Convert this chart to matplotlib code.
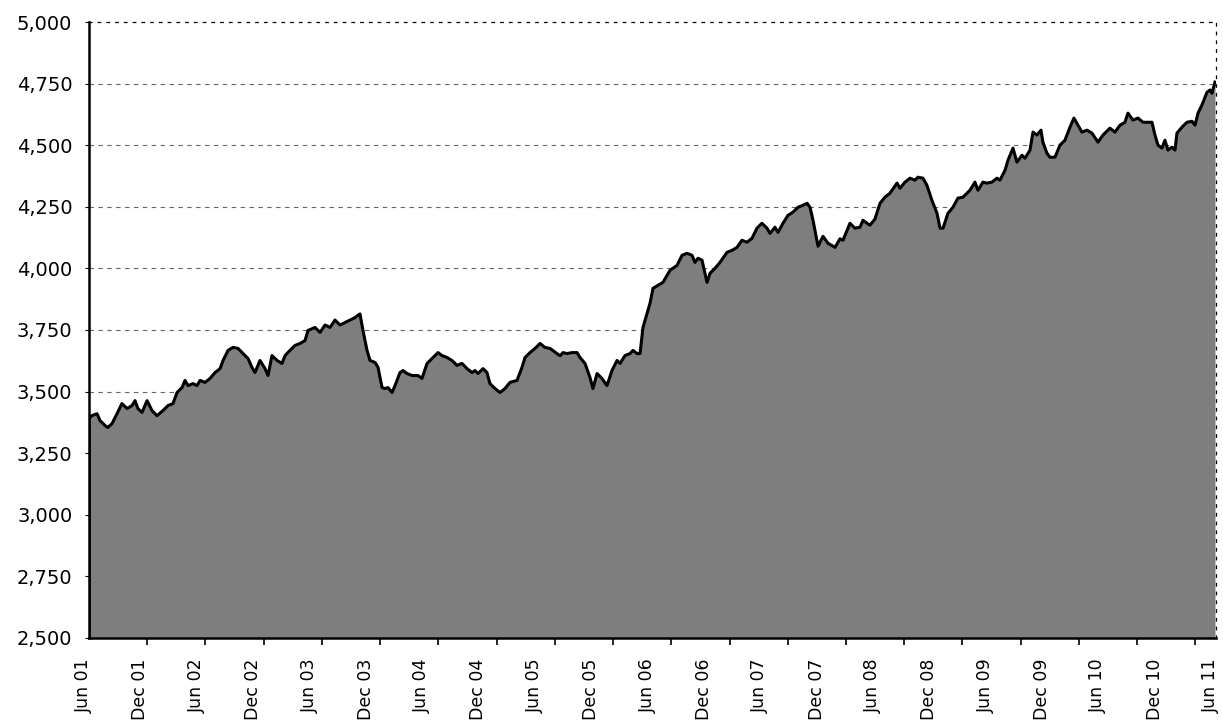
import numpy as np
import matplotlib.pyplot as plt
import matplotlib.transforms as mtransforms

plt.rcParams['font.family'] = ['DejaVu Sans']

# months since Jun 2001 and index level
months = [0.0, 0.3, 0.85, 1.17, 1.7, 2.0, 2.45, 2.98, 3.5, 4.05, 4.58, 4.9, 5.2, 5.64,
          6.18, 6.7, 7.24, 7.88, 8.41, 8.94, 9.37, 9.9, 10.22, 10.54, 11.07, 11.5, 11.82,
          12.35, 12.88, 13.42, 13.95, 14.27, 14.8, 15.33, 15.86, 16.4, 16.93, 17.35, 17.67,
          18.2, 18.74, 19.06, 19.48, 20.02, 20.55, 20.87, 21.4, 21.93, 22.47, 23.0, 23.32,
          24.06, 24.6, 25.13, 25.66, 26.19, 26.72, 27.26, 27.79, 28.32, 28.85, 29.17, 29.6,
          29.92, 30.45, 30.77, 31.2, 31.52, 31.83, 32.26, 32.58, 33.11, 33.43, 33.86, 34.39,
          35.03, 35.45, 35.99, 36.63, 37.16, 37.58, 38.12, 38.65, 39.18, 39.71, 40.25, 40.78,
          41.1, 41.42, 41.95, 42.37, 42.69, 43.23, 43.76, 44.29, 44.82, 45.57, 46.1, 46.42,
          46.95, 47.49, 48.02, 48.55, 49.08, 49.62, 50.15, 50.47, 50.89, 51.43, 51.96, 52.28,
          52.81, 53.34, 53.66, 54.09, 54.62, 55.15, 55.68, 56.22, 56.54, 57.07, 57.6, 57.92,
          58.35, 58.67, 58.98, 59.41, 59.73, 60.05, 60.58, 61.11, 61.86, 62.61, 63.14, 63.67,
          64.2, 64.52, 64.84, 65.27, 65.8, 66.12, 66.65, 67.18, 67.93, 68.46, 68.99, 69.52,
          70.06, 70.59, 71.12, 71.65, 72.19, 72.51, 73.04, 73.36, 73.89, 74.42, 74.95, 75.49,
          76.02, 76.45, 76.77, 77.09, 77.62, 78.15, 78.68, 79.43, 79.96, 80.28, 81.02, 81.56,
          82.09, 82.41, 83.15, 83.68, 84.22, 84.75, 85.28, 86.03, 86.35, 86.88, 87.41, 87.94,
          88.26, 88.8, 89.22, 89.75, 90.29, 90.61, 90.93, 91.46, 91.99, 92.52, 93.05, 93.8,
          94.33, 94.65, 95.18, 95.61, 96.14, 96.67, 96.99, 97.53, 97.85, 98.38, 98.8, 99.34,
          99.66, 100.19, 100.51, 100.93, 101.36, 101.57, 102.0, 102.32, 102.85, 103.38,
          103.91, 104.45, 104.87, 105.3, 105.72, 106.26, 106.79, 107.43, 107.96, 108.7,
          109.24, 109.77, 110.3, 110.62, 111.15, 111.69, 112.22, 112.75, 113.18, 113.5,
          113.82, 114.24, 114.56, 114.88, 115.31, 115.63, 115.84, 116.37, 116.9, 117.44,
          117.76, 118.08, 118.5, 119.04, 119.36, 119.57, 119.89]

level = [3390, 3402, 3410, 3382, 3362, 3354, 3370, 3410, 3451, 3431, 3443, 3463, 3431, 3415,
         3463, 3423, 3402, 3423, 3443, 3451, 3496, 3516, 3545, 3524, 3532, 3524, 3545,
         3537, 3553, 3577, 3593, 3626, 3667, 3679, 3675, 3654, 3634, 3598, 3577,
         3626, 3593, 3565, 3646, 3626, 3614, 3646, 3667, 3687, 3695, 3707, 3748,
         3760, 3740, 3770, 3760, 3790, 3770, 3780, 3790, 3800, 3815, 3748, 3667,
         3626, 3618, 3598, 3516, 3512, 3516, 3496, 3524, 3577, 3585, 3573, 3565,
         3565, 3553, 3614, 3638, 3658, 3646, 3638, 3626, 3606, 3614, 3593, 3577,
         3585, 3573, 3593, 3577, 3532, 3512, 3496, 3512, 3537, 3545, 3598, 3638,
         3658, 3675, 3695, 3679, 3675, 3660, 3645, 3658, 3654, 3658, 3658, 3638,
         3614, 3557, 3512, 3573, 3553, 3524, 3585, 3626, 3614, 3646, 3654, 3667,
         3654, 3654, 3760, 3817, 3858, 3919, 3931, 3943, 3992, 4012, 4053, 4061,
         4053, 4024, 4041, 4033, 3943, 3980, 4000, 4024, 4065, 4073, 4085, 4114,
         4106, 4122, 4163, 4183, 4163, 4142, 4167, 4146, 4183, 4215, 4228, 4248,
         4256, 4264, 4248, 4195, 4090, 4130, 4102, 4085, 4120, 4114, 4183, 4163,
         4167, 4195, 4175, 4200, 4264, 4289, 4305, 4346, 4325, 4350, 4366, 4358,
         4370, 4366, 4337, 4276, 4224, 4163, 4163, 4224, 4248, 4285, 4289, 4317,
         4350, 4317, 4350, 4346, 4350, 4366, 4358, 4398, 4439, 4488, 4431, 4459,
         4447, 4480, 4553, 4541, 4561, 4512, 4467, 4451, 4451, 4500,
         4520, 4573, 4610, 4581, 4553, 4561, 4549, 4512, 4541, 4569,
         4553, 4581, 4593, 4630, 4602, 4610, 4593, 4593, 4593, 4541,
         4500, 4488, 4520, 4480, 4492, 4480, 4549, 4573, 4593, 4597,
         4581, 4630, 4663, 4715, 4724, 4711, 4756]

tick_labels = ['Jun 01', 'Dec 01', 'Jun 02', 'Dec 02', 'Jun 03', 'Dec 03', 'Jun 04',
               'Dec 04', 'Jun 05', 'Dec 05', 'Jun 06', 'Dec 06', 'Jun 07', 'Dec 07',
               'Jun 08', 'Dec 08', 'Jun 09', 'Dec 09', 'Jun 10', 'Dec 10', 'Jun 11']
label_months = np.arange(0, 121, 6)
tick_mark_months = np.arange(20) * 6.2

fig = plt.figure(figsize=(12.23, 7.24), dpi=100)
ax = fig.add_axes([0.0728, 0.119, 0.9215, 0.8506])

x = np.array(months)
y = np.array(level)
ax.fill_between(x, 2500, y, color='#7e7e7e', zorder=2, linewidth=0)
ax.plot(x, y, color='black', linewidth=2.2, zorder=3)
ax.plot([x[0], x[0]], [2500, y[0]], color='black', linewidth=1.8, zorder=3)

ax.set_xlim(0, 120)
ax.set_ylim(2500, 5000)

yt = np.arange(2500, 5001, 250)
ax.set_yticks(yt)
ax.set_yticklabels([f'{v:,}' for v in yt], fontsize=14)
for v in yt[1:-1]:
    ax.axhline(v, color='#666666', linewidth=0.8, linestyle=(0, (4, 4)), zorder=1)

ax.set_xticks(label_months)
ax.set_xticklabels(tick_labels, rotation=90, fontsize=12.5, va='top')
ax.tick_params(axis='x', which='major', length=0, pad=15)
ax.set_xticks(tick_mark_months, minor=True)
ax.tick_params(axis='x', which='minor', length=5, width=1.2, direction='out')
ax.tick_params(axis='y', length=3, width=0.8, pad=9)

shift = mtransforms.ScaledTranslation(-5 / 100, 0, fig.dpi_scale_trans)
for lab in ax.get_xticklabels():
    lab.set_transform(lab.get_transform() + shift)

ax.spines['left'].set_linewidth(1.8)
ax.spines['bottom'].set_linewidth(1.8)
ax.spines['top'].set_linestyle((0, (2, 5)))
ax.spines['top'].set_linewidth(0.9)
ax.spines['right'].set_linestyle((0, (2, 5)))
ax.spines['right'].set_linewidth(0.9)

fig.savefig('out.png', dpi=100)
